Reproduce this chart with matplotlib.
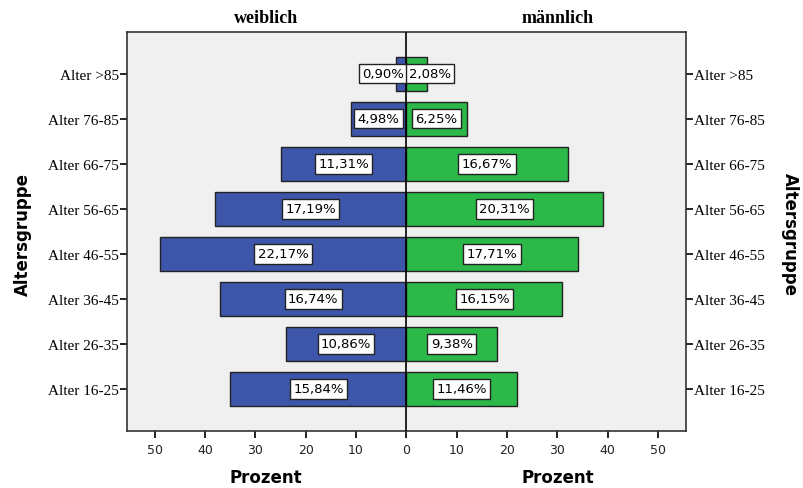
import numpy as np
import matplotlib.pyplot as plt

groups = ["Alter 16-25", "Alter 26-35", "Alter 36-45", "Alter 46-55",
          "Alter 56-65", "Alter 66-75", "Alter 76-85", "Alter >85"]
weiblich = [35, 24, 37, 49, 38, 25, 11, 2]
maennlich = [22, 18, 31, 34, 39, 32, 12, 4]
pct_w = ["15,84%", "10,86%", "16,74%", "22,17%", "17,19%", "11,31%", "4,98%", "0,90%"]
pct_m = ["11,46%", "9,38%", "16,15%", "17,71%", "20,31%", "16,67%", "6,25%", "2,08%"]
ticks = [-50, -40, -30, -20, -10, 0, 10, 20, 30, 40, 50]

blue = "#3E56AA"
green = "#2DB84A"

fig = plt.figure(figsize=(8.04, 4.89), dpi=100)
ax = fig.add_axes([0.158, 0.117, 0.695, 0.816])
ax.set_facecolor("#F0F0F0")

y = np.arange(len(groups))
ax.barh(y, -np.array(weiblich), height=0.75, color=blue, edgecolor="#222222", linewidth=1, zorder=2)
ax.barh(y, maennlich, height=0.75, color=green, edgecolor="#222222", linewidth=1, zorder=2)
ax.axvline(0, color="black", linewidth=1.2, zorder=3)

box = dict(boxstyle="square,pad=0.25", facecolor="white", edgecolor="#222222", linewidth=1)
for i in range(len(groups)):
    xw = -weiblich[i] / 2
    xm = maennlich[i] / 2
    # kleine Balken: Label neben die Null setzen
    if weiblich[i] < 5:
        ax.text(-0.5, y[i], pct_w[i], ha="right", va="center", fontsize=9.5, bbox=box, zorder=4)
    else:
        ax.text(xw, y[i], pct_w[i], ha="center", va="center", fontsize=9.5, bbox=box, zorder=4)
    if maennlich[i] < 5:
        ax.text(0.5, y[i], pct_m[i], ha="left", va="center", fontsize=9.5, bbox=box, zorder=4)
    else:
        ax.text(xm, y[i], pct_m[i], ha="center", va="center", fontsize=9.5, bbox=box, zorder=4)

ax.set_xlim(-55.5, 55.5)
ax.set_ylim(-0.93, 7.93)
ax.set_xticks(ticks)
ax.set_xticklabels([str(abs(t)) for t in ticks], fontfamily="DejaVu Sans", fontsize=9, color="#222222")
ax.set_yticks(y)
ax.set_yticklabels(groups, fontfamily="Liberation Serif", fontsize=11)
ax.tick_params(axis="y", left=True, right=True, labelleft=True, labelright=True,
               direction="out", length=5, width=1.2, pad=1)
ax.tick_params(axis="x", direction="out", length=5, width=1.2)
for s in ax.spines.values():
    s.set_color("#333333")
    s.set_linewidth(1.2)

fig.text(0.331, 0.962, "weiblich", ha="center", va="center", fontsize=13,
         fontweight="bold", fontfamily="Liberation Serif")
fig.text(0.694, 0.962, "männlich", ha="center", va="center", fontsize=13,
         fontweight="bold", fontfamily="Liberation Serif")
fig.text(0.331, 0.023, "Prozent", ha="center", va="center", fontsize=12, fontweight="bold")
fig.text(0.694, 0.023, "Prozent", ha="center", va="center", fontsize=12, fontweight="bold")
fig.text(0.028, 0.52, "Altersgruppe", ha="center", va="center", rotation=90,
         fontsize=12, fontweight="bold")
fig.text(0.982, 0.52, "Altersgruppe", ha="center", va="center", rotation=-90,
         fontsize=12, fontweight="bold")

fig.savefig("out.png", dpi=100)
